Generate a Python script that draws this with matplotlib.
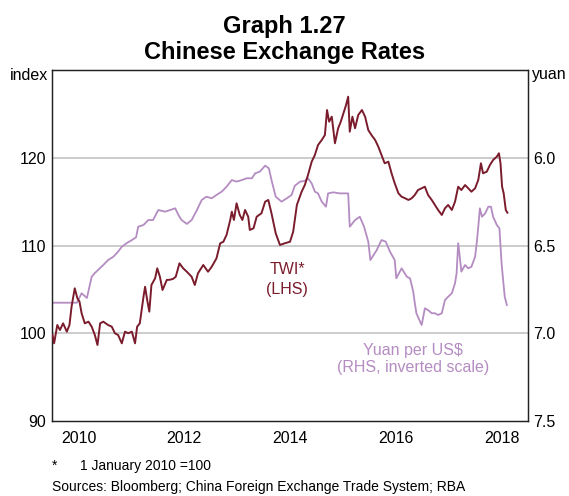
import matplotlib
matplotlib.use("Agg")
import matplotlib.pyplot as plt

plt.rcParams['font.family'] = ['Liberation Sans', 'DejaVu Sans']

# ---- data ----
twi_t = [2010.01, 2010.04, 2010.10, 2010.15, 2010.21, 2010.28, 2010.33, 2010.37, 2010.43, 2010.48,
         2010.52, 2010.56, 2010.62, 2010.69, 2010.75, 2010.81, 2010.86, 2010.91, 2010.97, 2011.06,
         2011.13, 2011.19, 2011.25, 2011.32, 2011.38, 2011.44, 2011.51, 2011.57, 2011.61, 2011.66,
         2011.73, 2011.76, 2011.80, 2011.84, 2011.88, 2011.95, 2011.99, 2012.04, 2012.09, 2012.17,
         2012.23, 2012.29, 2012.34, 2012.41, 2012.48, 2012.55, 2012.64, 2012.70, 2012.76, 2012.86,
         2012.95, 2013.02, 2013.11, 2013.18, 2013.24, 2013.30, 2013.37, 2013.40, 2013.44, 2013.49,
         2013.55, 2013.60, 2013.65, 2013.71, 2013.74, 2013.81, 2013.87, 2013.96, 2014.03, 2014.09,
         2014.15, 2014.23, 2014.31, 2014.40, 2014.50, 2014.56, 2014.63, 2014.72, 2014.78, 2014.84,
         2014.91, 2014.97, 2015.03, 2015.10, 2015.16, 2015.20, 2015.24, 2015.29, 2015.35, 2015.41,
         2015.46, 2015.51, 2015.56, 2015.60, 2015.63, 2015.68, 2015.73, 2015.79, 2015.86, 2015.92,
         2015.98, 2016.04, 2016.11, 2016.17, 2016.23, 2016.29, 2016.36, 2016.42, 2016.48, 2016.55,
         2016.61, 2016.67, 2016.74, 2016.80, 2016.86, 2016.92, 2016.99, 2017.05, 2017.11, 2017.18,
         2017.24, 2017.30, 2017.37, 2017.43, 2017.49, 2017.56, 2017.62, 2017.68, 2017.74, 2017.81,
         2017.87, 2017.93, 2018.00, 2018.06, 2018.11, 2018.15, 2018.22, 2018.28, 2018.34, 2018.41,
         2018.45, 2018.48, 2018.51, 2018.54, 2018.58, 2018.61]
twi_v = [99.80, 98.85, 100.94, 100.37, 101.13, 100.18, 100.94, 103.03, 105.12, 103.98,
         103.60, 102.27, 101.13, 101.32, 100.75, 99.80, 98.66, 101.13, 101.32, 100.94,
         100.75, 100.00, 99.80, 98.85, 100.18, 100.00, 100.18, 98.85, 100.75, 101.13,
         104.16, 105.30, 103.79, 102.46, 105.50, 106.26, 107.40, 106.44, 104.93, 106.07,
         106.10, 106.20, 106.44, 107.97, 107.40, 107.01, 106.44, 105.50, 106.83, 107.78,
         107.01, 107.58, 108.54, 110.25, 110.43, 111.20, 112.91, 113.85, 112.91, 114.81,
         113.48, 112.91, 114.05, 113.28, 111.77, 111.96, 113.28, 113.67, 114.99, 115.19,
         113.67, 111.39, 110.06, 110.25, 110.43, 111.57, 114.62, 116.13, 116.89, 118.03,
         119.55, 120.31, 121.45, 122.02, 122.59, 125.44, 124.11, 124.68, 121.65, 123.36,
         124.11, 125.07, 126.01, 126.96, 122.97, 124.68, 123.36, 124.87, 125.44, 124.68,
         123.16, 122.59, 122.02, 121.26, 120.31, 119.37, 119.55, 118.23, 117.09, 115.95,
         115.56, 115.40, 115.19, 115.38, 115.76, 116.32, 116.52, 116.70, 115.76, 115.19,
         114.62, 114.05, 113.48, 114.24, 114.62, 114.05, 114.99, 116.70, 116.32, 116.89,
         116.52, 116.13, 116.52, 117.47, 119.37, 118.23, 118.41, 119.17, 119.74, 120.12,
         120.51, 119.37, 116.70, 115.95, 114.05, 113.74]

yuan_t = [2010.01, 2010.47, 2010.56, 2010.66, 2010.75, 2010.81, 2010.97, 2011.06, 2011.16, 2011.25,
          2011.32, 2011.41, 2011.51, 2011.59, 2011.63, 2011.73, 2011.82, 2011.91, 2012.01, 2012.14,
          2012.23, 2012.33, 2012.39, 2012.45, 2012.55, 2012.64, 2012.74, 2012.83, 2012.92, 2013.02,
          2013.11, 2013.21, 2013.30, 2013.40, 2013.49, 2013.59, 2013.68, 2013.78, 2013.84, 2013.93,
          2014.03, 2014.10, 2014.15, 2014.23, 2014.34, 2014.44, 2014.53, 2014.59, 2014.69, 2014.78,
          2014.84, 2014.91, 2014.97, 2015.03, 2015.10, 2015.18, 2015.22, 2015.32, 2015.44, 2015.60,
          2015.63, 2015.73, 2015.82, 2015.90, 2015.98, 2016.02, 2016.14, 2016.23, 2016.31, 2016.39,
          2016.48, 2016.51, 2016.61, 2016.71, 2016.77, 2016.83, 2016.86, 2016.89, 2016.96, 2016.99,
          2017.05, 2017.11, 2017.18, 2017.24, 2017.30, 2017.37, 2017.43, 2017.49, 2017.56, 2017.62,
          2017.65, 2017.68, 2017.71, 2017.74, 2017.81, 2017.87, 2017.93, 2018.00, 2018.03, 2018.06,
          2018.09, 2018.13, 2018.19, 2018.25, 2018.30, 2018.34, 2018.41, 2018.46, 2018.50, 2018.53,
          2018.56, 2018.60]
yuan_v = [6.826, 6.826, 6.772, 6.799, 6.678, 6.657, 6.611, 6.583, 6.564, 6.535,
          6.507, 6.487, 6.469, 6.453, 6.393, 6.383, 6.355, 6.355, 6.298, 6.307,
          6.298, 6.288, 6.326, 6.355, 6.377, 6.355, 6.298, 6.241, 6.222, 6.231,
          6.212, 6.193, 6.165, 6.127, 6.136, 6.127, 6.117, 6.117, 6.089, 6.079,
          6.045, 6.060, 6.127, 6.222, 6.250, 6.231, 6.212, 6.160, 6.136, 6.132,
          6.117, 6.146, 6.193, 6.203, 6.250, 6.279, 6.203, 6.197, 6.203, 6.203,
          6.393, 6.355, 6.336, 6.393, 6.478, 6.583, 6.526, 6.469, 6.478, 6.535,
          6.583, 6.687, 6.630, 6.678, 6.687, 6.763, 6.829, 6.886, 6.934, 6.953,
          6.858, 6.868, 6.886, 6.886, 6.896, 6.886, 6.811, 6.792, 6.772, 6.715,
          6.658, 6.487, 6.564, 6.649, 6.611, 6.630, 6.621, 6.564, 6.487, 6.393,
          6.288, 6.336, 6.317, 6.279, 6.279, 6.336, 6.383, 6.402, 6.601, 6.697,
          6.792, 6.839]

year_labels = ['2010', '2012', '2014', '2016', '2018']
left_ticks = [90, 100, 110, 120]
right_ticks = [6.0, 6.5, 7.0, 7.5]

TWI_COL = '#7a1c2c'
YUAN_COL = '#b48cc2'

fig = plt.figure(figsize=(5.69, 4.96), dpi=100)
ax2 = fig.add_axes([52/569, 75/496, (528-52)/569, (421-70)/496])
ax = ax2.twinx()

# yuan (inverted right scale) on ax2
ax2.plot(yuan_t, yuan_v, color=YUAN_COL, lw=1.3, zorder=2)
ax2.set_ylim(7.5, 5.5)
ax2.set_xlim(2010, 2019)
for v in [6.0, 6.5, 7.0]:
    ax2.axhline(v, color='#c4c4c4', lw=1.2, zorder=1)

# TWI on left scale
ax.plot(twi_t, twi_v, color=TWI_COL, lw=1.4, zorder=3)
ax.set_ylim(90, 130)
ax.set_xlim(2010, 2019)

ax.yaxis.tick_left()
ax.yaxis.set_label_position('left')
ax2.yaxis.tick_right()

ax.set_yticks(left_ticks)
ax.set_yticklabels([str(v) for v in left_ticks])
ax2.set_yticks(right_ticks)
ax2.set_yticklabels([f'{v:.1f}' for v in right_ticks])
ax.tick_params(axis='y', length=0, pad=4, labelsize=11.5)
ax2.tick_params(axis='y', length=0, pad=4, labelsize=11.5)
ax2.set_xticks([2011, 2012, 2013, 2014, 2015, 2016, 2017, 2018])
ax2.set_xticklabels([])
ax2.tick_params(axis='x', which='major', direction='in', length=5, width=0.8)
ax2.set_xticks([2010.5, 2012.5, 2014.5, 2016.5, 2018.5], minor=True)
ax2.set_xticklabels(year_labels, minor=True)
ax2.tick_params(axis='x', which='minor', length=0, pad=7, labelsize=11.5)
ax.set_xticks([])

for a in (ax, ax2):
    for s in a.spines.values():
        s.set_color('#222222')
        s.set_linewidth(0.9)

# axis unit labels
fig.text(48/569, 1 - 75/496, 'index', ha='right', va='center', fontsize=11.5)
fig.text(532/569, 1 - 75/496, 'yuan', ha='left', va='center', fontsize=11.5)

# titles
fig.text(0.5, 1 - 33/496, 'Graph 1.27', ha='center', va='baseline', fontsize=17, fontweight='bold')
fig.text(0.5, 1 - 59/496, 'Chinese Exchange Rates', ha='center', va='baseline', fontsize=17, fontweight='bold')

# series labels
ax.text(2014.45, 107.3, 'TWI*', color=TWI_COL, ha='center', va='center', fontsize=11.5)
ax.text(2014.45, 105.0, '(LHS)', color=TWI_COL, ha='center', va='center', fontsize=11.5)
ax2.text(2016.83, 7.097, 'Yuan per US$', color=YUAN_COL, ha='center', va='center', fontsize=11.5)
ax2.text(2016.83, 7.197, '(RHS, inverted scale)', color=YUAN_COL, ha='center', va='center', fontsize=11.5)

# footnotes
fig.text(52/569, 1 - 466/496, '*', ha='left', va='center', fontsize=10)
fig.text(80/569, 1 - 466/496, '1 January 2010 =100', ha='left', va='center', fontsize=10)
fig.text(52/569, 1 - 487/496, 'Sources: Bloomberg; China Foreign Exchange Trade System; RBA',
         ha='left', va='center', fontsize=10)

fig.savefig('out.png', dpi=100)
